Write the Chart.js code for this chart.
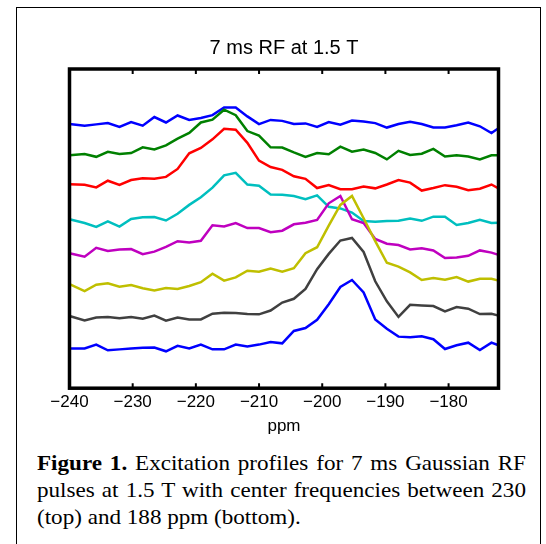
<!DOCTYPE html>
<html>
<head>
<meta charset="utf-8">
<script src="https://cdn.jsdelivr.net/npm/chart.js@4"></script>
<style>
  html, body { margin: 0; padding: 0; background: #fff; }
  body { width: 546px; height: 544px; position: relative; overflow: hidden; }
  #frame { position: absolute; left: 16px; top: 7px; width: 523px; height: 600px;
           border: 1.5px solid #000; border-bottom: none; }
  #c { position: absolute; left: 0; top: 0; }
  /* the original caption is a bit wider than plain Times, so stretch it */
  .cap { position: absolute; left: 37px; width: 444.5px; top: 450px;
         transform: scaleX(1.1); transform-origin: 0 0;
         font-family: "Liberation Serif", serif; font-size: 21px; line-height: 27px; color: #000; }
  .cap div { text-align: justify; text-align-last: justify; }
  .cap div.last { text-align: left; text-align-last: left; }
</style>
</head>
<body>
<div id="frame"></div>
<canvas id="c" width="546" height="440"></canvas>
<div class="cap">
  <div><b>Figure 1.</b> Excitation profiles for 7 ms Gaussian RF</div>
  <div>pulses at 1.5 T with center frequencies between 230</div>
  <div class="last">(top) and 188 ppm (bottom).</div>
</div>
<script>
// frequency axis (ppm), first and last value sit on the plot edges
const ppm = [-240.0, -237.61, -235.77, -233.93, -232.09, -230.25, -228.41, -226.57, -224.73, -222.89,
  -221.05, -219.21, -217.37, -215.53, -213.69, -211.85, -210.01, -208.17, -206.33, -204.49,
  -202.65, -200.81, -198.97, -197.13, -195.29, -193.45, -191.61, -189.77, -187.93, -186.09,
  -184.25, -182.41, -180.57, -178.73, -176.89, -175.05, -173.21, -172.1];

// stacked excitation profiles (arbitrary units, offset per pulse)
const f230 = [8.24, 8.19, 8.23, 8.27, 8.15, 8.30, 8.19, 8.46, 8.29, 8.51, 8.37, 8.43, 8.52, 8.76, 8.76, 8.48, 8.24, 8.37, 8.34,
  8.24, 8.26, 8.15, 8.30, 8.22, 8.35, 8.32, 8.27, 8.13, 8.24, 8.31, 8.24, 8.13, 8.13, 8.20, 8.29, 8.17, 7.96, 8.11];
const f224 = [7.26, 7.30, 7.21, 7.37, 7.30, 7.33, 7.51, 7.44, 7.57, 7.78, 7.96, 8.29, 8.38, 8.69, 8.52, 8.02, 7.88, 7.51, 7.50,
  7.35, 7.21, 7.33, 7.29, 7.53, 7.37, 7.44, 7.33, 7.13, 7.40, 7.27, 7.31, 7.46, 7.22, 7.26, 7.22, 7.13, 7.26, 7.26];
const f218 = [6.35, 6.33, 6.25, 6.46, 6.33, 6.48, 6.54, 6.52, 6.58, 6.83, 7.32, 7.49, 7.76, 8.09, 8.06, 7.65, 7.09, 6.89, 6.80,
  6.60, 6.52, 6.23, 6.32, 6.19, 6.19, 6.28, 6.22, 6.34, 6.48, 6.40, 6.15, 6.23, 6.32, 6.27, 6.16, 6.21, 6.34, 6.22];
const f212 = [5.25, 5.13, 5.01, 5.18, 5.02, 5.26, 5.31, 5.32, 5.21, 5.42, 5.70, 5.94, 6.24, 6.63, 6.71, 6.34, 6.30, 6.03, 6.02,
  5.98, 5.88, 6.00, 5.64, 5.59, 5.46, 5.19, 5.17, 5.19, 5.20, 5.27, 5.20, 5.33, 5.33, 5.07, 5.13, 5.23, 5.13, 5.14];
const f206 = [4.18, 4.07, 4.35, 4.25, 4.30, 4.31, 4.15, 4.23, 4.38, 4.56, 4.52, 4.57, 5.06, 5.02, 5.13, 4.97, 4.97, 4.84, 4.89,
  5.09, 5.14, 5.23, 5.75, 5.98, 5.25, 5.13, 4.63, 4.48, 4.44, 4.30, 4.34, 4.27, 4.03, 4.05, 4.10, 4.27, 4.20, 4.13];
const f200 = [3.21, 2.99, 3.19, 3.24, 3.13, 3.18, 3.08, 3.01, 3.09, 3.06, 3.15, 3.27, 3.54, 3.32, 3.42, 3.63, 3.60, 3.70, 3.60,
  3.71, 4.18, 4.37, 5.05, 5.70, 5.98, 5.28, 4.56, 3.88, 3.76, 3.58, 3.34, 3.40, 3.35, 3.43, 3.29, 3.38, 3.38, 3.32];
const f194 = [2.21, 2.07, 2.16, 2.18, 2.14, 2.18, 2.12, 2.22, 2.06, 2.16, 2.10, 2.10, 2.28, 2.31, 2.30, 2.27, 2.26, 2.38, 2.63,
  2.75, 3.06, 3.68, 4.16, 4.58, 4.66, 4.22, 3.30, 2.67, 2.18, 2.56, 2.54, 2.52, 2.35, 2.49, 2.44, 2.27, 2.28, 2.22];
const f188 = [1.19, 1.19, 1.31, 1.13, 1.16, 1.19, 1.21, 1.22, 1.10, 1.27, 1.19, 1.31, 1.16, 1.16, 1.31, 1.25, 1.31, 1.39, 1.35,
  1.74, 1.83, 2.09, 2.58, 3.12, 3.34, 2.95, 2.10, 1.81, 1.56, 1.54, 1.57, 1.48, 1.17, 1.29, 1.37, 1.14, 1.37, 1.29];

const profiles = [f230, f224, f218, f212, f206, f200, f194, f188];
const labels = ['230 ppm', '224 ppm', '218 ppm', '212 ppm', '206 ppm', '200 ppm', '194 ppm', '188 ppm'];
const colors = ['#0000ff', '#008000', '#ff0000', '#00bfbf', '#bf00bf', '#bfbf00', '#404040', '#0000ff'];

// thick box round the plot plus small inward ticks, matlab style
const boxPlugin = {
  id: 'box',
  afterDatasetsDraw(chart) {
    const { ctx, chartArea: a, scales: { x } } = chart;
    ctx.save();
    ctx.strokeStyle = '#000';
    ctx.lineWidth = 2;
    x.ticks.forEach(t => {
      const px = x.getPixelForValue(t.value);
      ctx.beginPath();
      ctx.moveTo(px, a.top); ctx.lineTo(px, a.top + 5);
      ctx.moveTo(px, a.bottom); ctx.lineTo(px, a.bottom - 5);
      ctx.stroke();
    });
    ctx.lineWidth = 3.5;
    ctx.strokeRect(a.left, a.top, a.right - a.left, a.bottom - a.top);
    ctx.restore();
  }
};

Chart.defaults.font.family = '"Liberation Sans", Arial, sans-serif';
Chart.defaults.color = '#000';

new Chart(document.getElementById('c').getContext('2d'), {
  type: 'line',
  data: {
    datasets: profiles.map((p, i) => ({
      label: labels[i],
      data: p.map((v, j) => ({ x: ppm[j], y: v })),
      borderColor: colors[i],
      borderWidth: 2.5,
      pointRadius: 0,
      tension: 0,
      fill: false,
      order: -i
    }))
  },
  options: {
    responsive: false,
    animation: false,
    layout: { padding: { left: 69.5, right: 47.5, top: 0, bottom: 1 } },
    plugins: {
      legend: { display: false },
      tooltip: { enabled: false },
      title: {
        display: true,
        text: '7 ms RF at 1.5 T',
        font: { size: 20, weight: 'normal' },
        color: '#000',
        padding: { top: 36, bottom: 9 }
      }
    },
    scales: {
      x: {
        type: 'linear',
        min: -240,
        max: -172.1,
        grid: { display: false, drawTicks: false },
        border: { display: false },
        ticks: {
          stepSize: 10,
          includeBounds: false,
          maxRotation: 0,
          autoSkip: false,
          padding: 4,
          font: { size: 17 },
          color: '#000',
          callback: v => String(v).replace('-', '\u2212')
        },
        title: { display: true, text: 'ppm', font: { size: 17 }, color: '#000', padding: { top: 0, bottom: 2 } }
      },
      y: { display: false, min: -0.06, max: 9.97 }
    }
  },
  plugins: [boxPlugin]
});
</script>
</body>
</html>
